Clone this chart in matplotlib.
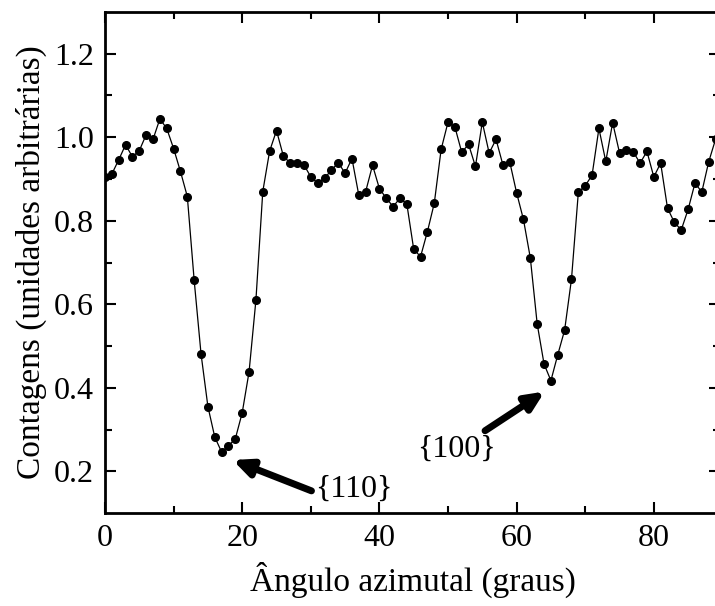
import matplotlib
matplotlib.use('Agg')
import matplotlib.pyplot as plt
import numpy as np

# Azimuthal angle (degrees) and counts
angle = np.arange(0, 90)
counts = [0.904, 0.912, 0.946, 0.982, 0.953, 0.968, 1.006, 0.995, 1.044, 1.021,
          0.973, 0.918, 0.858, 0.657, 0.481, 0.355, 0.282, 0.246, 0.261, 0.278,
          0.340, 0.438, 0.610, 0.870, 0.967, 1.016, 0.955, 0.938, 0.938, 0.934,
          0.905, 0.890, 0.902, 0.921, 0.939, 0.914, 0.949, 0.861, 0.870, 0.933,
          0.877, 0.854, 0.834, 0.854, 0.840, 0.732, 0.714, 0.774, 0.842, 0.971,
          1.036, 1.025, 0.964, 0.983, 0.930, 1.036, 0.962, 0.995, 0.934, 0.941,
          0.867, 0.803, 0.711, 0.553, 0.457, 0.417, 0.479, 0.538, 0.660, 0.868,
          0.884, 0.909, 1.021, 0.942, 1.035, 0.963, 0.969, 0.965, 0.938, 0.966,
          0.905, 0.938, 0.830, 0.796, 0.778, 0.827, 0.890, 0.869, 0.941, 0.995]

# annotation labels: (text, text pos, arrow tail, arrow tip)
labels = ['{110}', '{100}']
label_pos = [(36.3, 0.157), (51.2, 0.253)]
arrow_tail = [(30.1, 0.153), (55.4, 0.297)]
arrow_tip = [(18.6, 0.227), (64.1, 0.391)]

plt.rcParams['font.family'] = ['Liberation Serif', 'DejaVu Serif']

fig = plt.figure(figsize=(7.15, 6.06), dpi=100)
ax = fig.add_axes([105 / 715, 93 / 606, 615 / 715, 501 / 606])

ax.plot(angle, counts, '-o', color='black', lw=0.9, markersize=5.5)

for txt, tp, tail, tip in zip(labels, label_pos, arrow_tail, arrow_tip):
    ax.annotate('', xy=tip, xytext=tail,
                arrowprops=dict(arrowstyle='-|>,head_length=1.1,head_width=0.5',
                                lw=5, color='black', shrinkA=0, shrinkB=0))
    ax.text(tp[0], tp[1], txt, fontsize=23, ha='center', va='center')

ax.set_xlim(0, 89.65)
ax.set_ylim(0.1, 1.3)
ax.set_xticks([0, 20, 40, 60, 80])
ax.set_xticks(np.arange(10, 90, 20), minor=True)
ax.set_yticks([0.2, 0.4, 0.6, 0.8, 1.0, 1.2])
ax.set_yticks([0.3, 0.5, 0.7, 0.9, 1.1], minor=True)
ax.set_yticklabels(['0.2', '0.4', '0.6', '0.8', '1.0', '1.2'])

ax.tick_params(which='both', direction='in', top=True, right=True, width=1.5,
               labelsize=23, pad=8)
ax.tick_params(which='major', length=8)
ax.tick_params(which='minor', length=5)
for sp in ax.spines.values():
    sp.set_linewidth(2)

ax.set_xlabel('Ângulo azimutal (graus)', fontsize=24, labelpad=6)
ax.set_ylabel('Contagens (unidades arbitrárias)', fontsize=24, labelpad=5)

plt.savefig('out.png', dpi=100)
